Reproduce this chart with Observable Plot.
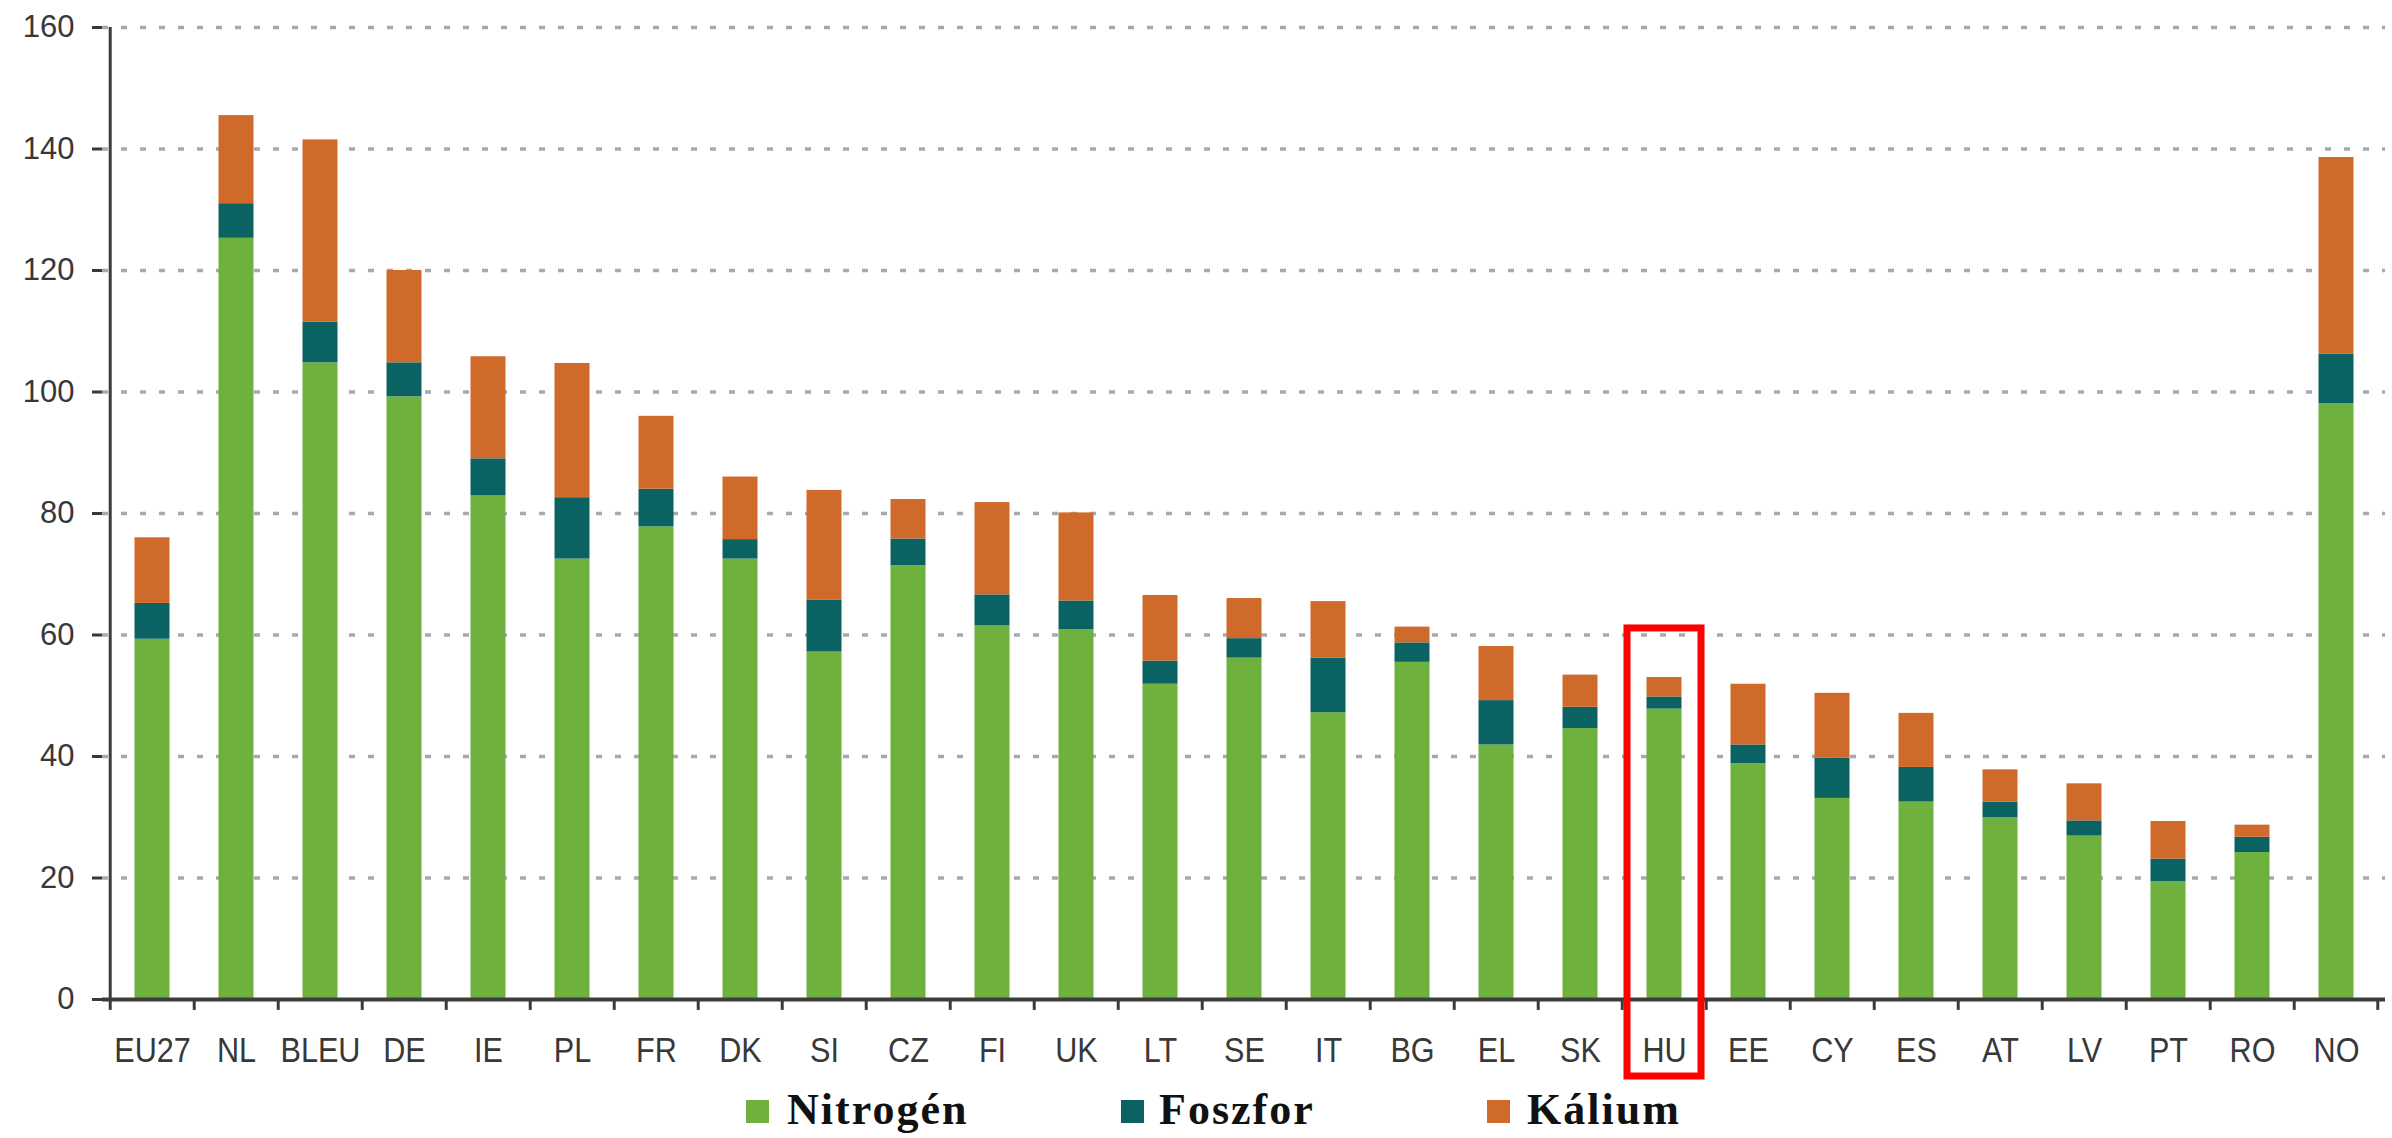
<!DOCTYPE html>
<html>
<head>
<meta charset="utf-8">
<script src="https://cdn.jsdelivr.net/npm/d3@7"></script>
<script src="https://cdn.jsdelivr.net/npm/@observablehq/plot@0.6"></script>
<style>
  html, body { margin: 0; padding: 0; background: #fff; }
  #wrap { position: relative; width: 2392px; height: 1138px; overflow: hidden; }
  #legend { position: absolute; left: 0; top: 1088px; width: 2392px; height: 50px; }
  .sw { position: absolute; width: 23px; height: 23px; top: 12px; }
  .lt { position: absolute; top: 0px; font-family: "Liberation Serif", "Times New Roman", serif; font-weight: bold; font-size: 44px; letter-spacing: 2px; color: #111; line-height: 44px; }
</style>
</head>
<body>
<div id="wrap">
  <div id="chart"></div>
  <div id="legend"></div>
</div>
<script>
const countries = ["EU27","NL","BLEU","DE","IE","PL","FR","DK","SI","CZ","FI","UK","LT","SE","IT","BG","EL","SK","HU","EE","CY","ES","AT","LV","PT","RO","NO"];
const nitrogen  = [59.3,125.3,104.8,99.2,82.9,72.5,77.8,72.5,57.2,71.4,61.5,60.9,51.9,56.2,47.2,55.5,41.9,44.6,47.8,38.8,33.1,32.5,29.9,26.9,19.4,24.2,98.1];
const foszfor   = [5.9,5.7,6.7,5.6,6.1,10.1,6.2,3.2,8.5,4.4,5.1,4.7,3.8,3.2,9.0,3.2,7.3,3.5,2.0,3.1,6.6,5.7,2.6,2.5,3.7,2.5,8.1];
const kalium    = [10.8,14.5,30.0,15.2,16.8,22.1,12.0,10.3,18.1,6.5,15.2,14.5,10.8,6.6,9.3,2.6,8.9,5.3,3.2,10.0,10.7,8.9,5.3,6.1,6.2,2.0,32.4];
const nutrients = ["Nitrogén","Foszfor","Kálium"];
const colors    = ["#6fb13f","#0b6262","#d06a2a"];
const yTicks    = [0,20,40,60,80,100,120,140,160];
const highlight = [{country: "HU", from: -13.5, to: 61.9}];

const series = [nitrogen, foszfor, kalium];
const rows = [];
countries.forEach((c, i) => {
  nutrients.forEach((n, j) => rows.push({country: c, nutrient: n, value: series[j][i]}));
});

const W = 2392, H = 1088, mL = 102, mR = 7, mT = 27, mB = 89;
const bw = (W - mL - mR) / countries.length;
const font = "'Liberation Sans', Arial, sans-serif";

const chart = Plot.plot({
  width: W, height: H,
  marginTop: mT, marginBottom: mB, marginLeft: mL, marginRight: mR,
  style: {fontFamily: font, background: "#fff"},
  x: {type: "band", domain: countries, padding: 0, axis: null},
  y: {domain: [0, 160], axis: null},
  color: {domain: nutrients, range: colors},
  marks: [
    Plot.ruleY(yTicks.filter(d => d > 0), {y: d => d, stroke: "#a6a9ae", strokeWidth: 3.5, strokeDasharray: "6,13"}),
    Plot.barY(rows, {x: "country", y: "value", fill: "nutrient", order: nutrients, insetLeft: 24.5, insetRight: 24.5}),
    Plot.ruleY([0], {stroke: "#3c3c3c", strokeWidth: 4}),
    Plot.ruleX([countries[0]], {x: d => d, y1: 0, y2: 160, dx: -bw/2, stroke: "#3c3c3c", strokeWidth: 3}),
    Plot.ruleX(countries, {x: d => d, y1: 0, y2: -1.8, dx: -bw/2, stroke: "#3c3c3c", strokeWidth: 3}),
    Plot.ruleX([countries[countries.length-1]], {x: d => d, y1: 0, y2: -1.8, dx: bw/2 - 1, stroke: "#3c3c3c", strokeWidth: 3}),
    Plot.axisY({ticks: yTicks, tickSize: 10, tickPadding: 18, fontSize: 31, color: "#383838", strokeWidth: 3, tickFormat: d => d, label: null}),
    Plot.axisX({tickSize: 0, tickPadding: 37, fontSize: 36, color: "#383838", label: null, className: "xlab"}),
    Plot.rect(highlight, {x: "country", y1: "from", y2: "to", fill: "none", stroke: "#ff0000", strokeWidth: 7, inset: 5})
  ]
});
// narrow the x tick labels horizontally (condensed look of the original)
chart.querySelectorAll("g.xlab text").forEach(t => {
  const tr = t.getAttribute("transform") || "";
  t.setAttribute("transform", tr + " scale(0.85,1)");
});
document.getElementById("chart").appendChild(chart);

const legend = document.getElementById("legend");
const swX = [746, 1121, 1487];
const txX = [787, 1159, 1527];
nutrients.forEach((n, i) => {
  const s = document.createElement("div");
  s.className = "sw"; s.style.left = swX[i] + "px"; s.style.background = colors[i];
  legend.appendChild(s);
  const t = document.createElement("div");
  t.className = "lt"; t.style.left = txX[i] + "px"; t.textContent = n;
  legend.appendChild(t);
});
</script>
</body>
</html>
